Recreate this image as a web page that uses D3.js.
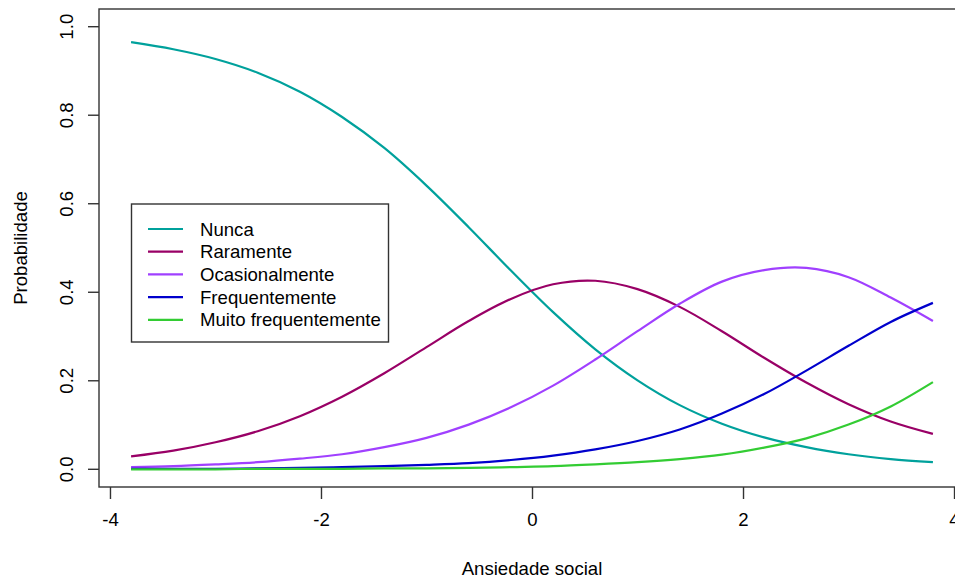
<!DOCTYPE html>
<html>
<head>
<meta charset="utf-8">
<script src="https://cdn.jsdelivr.net/npm/d3@7"></script>
<style>
  body { margin: 0; background: #fff; }
  svg { display: block; font-family: "Liberation Sans", Arial, sans-serif; }
</style>
</head>
<body>
<div id="svganchor"></div>
<script>
let width = 955, height = 579;

let margin = ({top: 9, right: -10, bottom: 92, left: 99});
let fontSize = 18.6;

// ansiedade social (eixo x)
let ansiedade = [-3.8, -3.4, -3.0, -2.6, -2.2, -1.8, -1.4, -1.0, -0.6, -0.2,
                 0.2, 0.6, 1.0, 1.4, 1.8, 2.2, 2.6, 3.0, 3.4, 3.8];

let nunca = [0.965, 0.949, 0.927, 0.896, 0.853, 0.796, 0.726, 0.641, 0.547, 0.449,
             0.355, 0.271, 0.201, 0.145, 0.103, 0.072, 0.050, 0.034, 0.023, 0.016];
let raramente = [0.029, 0.042, 0.061, 0.086, 0.120, 0.164, 0.217, 0.276, 0.335, 0.385,
                 0.418, 0.426, 0.407, 0.367, 0.312, 0.252, 0.196, 0.147, 0.108, 0.080];
let ocasionalmente = [0.005, 0.007, 0.011, 0.016, 0.024, 0.034, 0.050, 0.071, 0.101, 0.140,
                      0.189, 0.248, 0.312, 0.374, 0.424, 0.450, 0.455, 0.434, 0.388, 0.335];
let frequentemente = [0.001, 0.001, 0.001, 0.002, 0.003, 0.005, 0.007, 0.010, 0.014, 0.021,
                      0.031, 0.045, 0.064, 0.090, 0.126, 0.170, 0.223, 0.279, 0.333, 0.376];
let muitoFreq = [0.000, 0.000, 0.000, 0.001, 0.001, 0.001, 0.002, 0.002, 0.003, 0.005,
                 0.007, 0.011, 0.016, 0.023, 0.033, 0.049, 0.070, 0.101, 0.142, 0.197];

let seriesNames = ["Nunca", "Raramente", "Ocasionalmente", "Frequentemente", "Muito frequentemente"];
let seriesValues = [nunca, raramente, ocasionalmente, frequentemente, muitoFreq];
let seriesColors = ["#00a19c", "#990066", "#a040ff", "#0000cc", "#33cc33"];

let xTicks = [-4, -2, 0, 2, 4];
let yTicks = [0, 0.2, 0.4, 0.6, 0.8, 1.0];

let svg = d3.select("#svganchor")
    .append("svg")
    .attr("width", width)
    .attr("height", height);

// R style: 4% extension around the data range
let xScale = d3.scaleLinear()
    .domain([-4.104, 4.104])
    .range([margin.left, width - margin.right]);

let yScale = d3.scaleLinear()
    .domain([-0.04, 1.04])
    .range([height - margin.bottom, margin.top]);

let line = d3.line()
    .x(function(d) { return xScale(d[0]); })
    .y(function(d) { return yScale(d[1]); })
    .curve(d3.curveCatmullRom);

seriesValues.forEach(function(vals, i) {
    svg.append("path")
        .datum(ansiedade.map(function(x, j) { return [x, vals[j]]; }))
        .attr("fill", "none")
        .attr("stroke", seriesColors[i])
        .attr("stroke-width", 2.2)
        .attr("d", line);
});

// box
svg.append("rect")
    .attr("x", margin.left)
    .attr("y", margin.top)
    .attr("width", (width - margin.right) - margin.left)
    .attr("height", (height - margin.bottom) - margin.top)
    .attr("fill", "none")
    .attr("stroke", "#333")
    .attr("stroke-width", 1.4);

let xAxis = d3.axisBottom(xScale)
    .tickValues(xTicks)
    .tickFormat(d3.format("d"))
    .tickSizeInner(12)
    .tickSizeOuter(0)
    .tickPadding(14);

let gX = svg.append("g")
    .attr("class", "x axis")
    .attr("transform", `translate(0,${height - margin.bottom})`)
    .call(xAxis);

gX.select(".domain").remove();
gX.selectAll("line").attr("stroke", "#333").attr("stroke-width", 1.4);
gX.selectAll("text")
    .attr("fill", "#000")
    .attr("font-size", fontSize)
    .attr("font-family", "Liberation Sans, Arial, sans-serif")
    .text(function(d) { return d < 0 ? "-" + Math.abs(d) : d; });

let gY = svg.append("g")
    .attr("class", "y axis")
    .attr("transform", `translate(${margin.left},0)`);

gY.selectAll("line")
    .data(yTicks)
    .enter()
    .append("line")
    .attr("x1", -11)
    .attr("x2", 0)
    .attr("y1", function(d) { return yScale(d); })
    .attr("y2", function(d) { return yScale(d); })
    .attr("stroke", "#333")
    .attr("stroke-width", 1.4);

gY.selectAll("text")
    .data(yTicks)
    .enter()
    .append("text")
    .attr("transform", function(d) { return `translate(-26,${yScale(d)}) rotate(-90)`; })
    .attr("text-anchor", "middle")
    .attr("font-size", fontSize)
    .text(d3.format(".1f"));

svg.append("text")
    .attr("text-anchor", "middle")
    .attr("x", xScale(0))
    .attr("y", 575)
    .attr("font-size", fontSize)
    .text("Ansiedade social");

svg.append("text")
    .attr("text-anchor", "middle")
    .attr("transform", `translate(27,${(margin.top + height - margin.bottom) / 2}) rotate(-90)`)
    .attr("font-size", fontSize)
    .text("Probabilidade");

// legend
let legendBox = {x: 131.5, y: 204, w: 257, h: 138};
let legendRow = 22.7;

svg.append("rect")
    .attr("x", legendBox.x)
    .attr("y", legendBox.y)
    .attr("width", legendBox.w)
    .attr("height", legendBox.h)
    .attr("fill", "#fff")
    .attr("stroke", "#333")
    .attr("stroke-width", 1.4);

let legend = svg.selectAll(".legend")
    .data(seriesNames)
    .enter()
    .append("g")
    .attr("class", "legend")
    .attr("transform", function(d, i) { return `translate(0,${229 + i * legendRow})`; });

legend.append("line")
    .attr("x1", 148)
    .attr("x2", 183)
    .attr("stroke", function(d, i) { return seriesColors[i]; })
    .attr("stroke-width", 2.2);

legend.append("text")
    .attr("x", 200)
    .attr("y", 6.5)
    .attr("font-size", fontSize)
    .text(function(d) { return d; });
</script>
</body>
</html>
